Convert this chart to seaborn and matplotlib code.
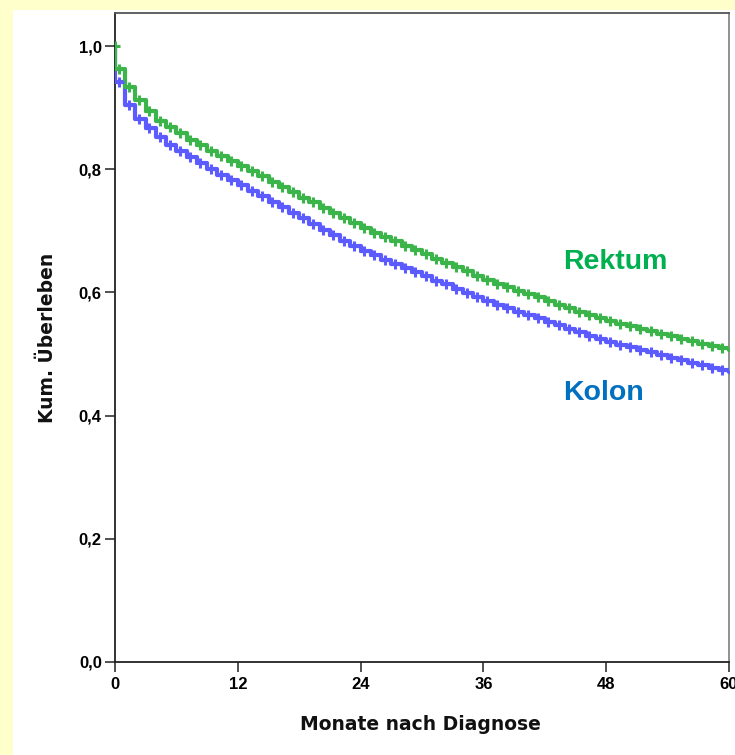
import matplotlib
matplotlib.use("Agg")
import matplotlib.pyplot as plt
import seaborn as sns
import pandas as pd
from matplotlib.patches import Rectangle

# ---- data ----
months = list(range(0, 61))
rektum = [0.963, 0.933, 0.912, 0.895, 0.879, 0.868, 0.858, 0.848, 0.839, 0.830,
          0.822, 0.814, 0.806, 0.797, 0.789, 0.780, 0.771, 0.763, 0.754, 0.746,
          0.737, 0.729, 0.721, 0.712, 0.704, 0.697, 0.690, 0.683, 0.676, 0.669,
          0.662, 0.655, 0.648, 0.641, 0.634, 0.627, 0.620, 0.614, 0.608, 0.603,
          0.597, 0.592, 0.586, 0.580, 0.575, 0.569, 0.564, 0.558, 0.553, 0.549,
          0.545, 0.541, 0.537, 0.533, 0.529, 0.525, 0.521, 0.517, 0.513, 0.509,
          0.506]
kolon = [0.941, 0.904, 0.882, 0.867, 0.852, 0.840, 0.830, 0.820, 0.810, 0.800,
         0.791, 0.782, 0.774, 0.765, 0.756, 0.747, 0.738, 0.729, 0.720, 0.711,
         0.702, 0.693, 0.684, 0.676, 0.667, 0.660, 0.653, 0.646, 0.640, 0.633,
         0.626, 0.619, 0.613, 0.606, 0.599, 0.593, 0.586, 0.580, 0.575, 0.569,
         0.564, 0.558, 0.552, 0.547, 0.541, 0.536, 0.530, 0.525, 0.519, 0.515,
         0.511, 0.507, 0.503, 0.499, 0.494, 0.490, 0.486, 0.482, 0.478, 0.474,
         0.470]
x_ticks = [0, 12, 24, 36, 48, 60]
y_ticks = [0.0, 0.2, 0.4, 0.6, 0.8, 1.0]
y_ticklabels = ["0,0", "0,2", "0,4", "0,6", "0,8", "1,0"]
series_names = ["Kolon", "Rektum"]

line_colors = {"Kolon": "#5B5BFF", "Rektum": "#3BB44A"}
text_colors = {"Kolon": "#0070C0", "Rektum": "#00B050"}

sns.set_theme(style="white")
plt.rcParams["font.family"] = ["Liberation Sans", "DejaVu Sans"]

fig = plt.figure(figsize=(7.35, 7.55), dpi=100)
fig.patch.set_facecolor("white")
# yellow page border
fig.patches.append(Rectangle((0, 0), 13 / 735, 1, transform=fig.transFigure,
                             facecolor="#FFFFCC", edgecolor="none", zorder=0))
fig.patches.append(Rectangle((0, 1 - 10 / 755), 1, 10 / 755, transform=fig.transFigure,
                             facecolor="#FFFFCC", edgecolor="none", zorder=0))

ax = fig.add_axes([115 / 735, 1 - 662 / 755, 614 / 735, 649 / 755])
ax.set_facecolor("white")

for name, vals in [("Kolon", kolon), ("Rektum", rektum)]:
    df = pd.DataFrame({"t": [0] + months, "s": [1.0] + vals, "grp": name})
    sns.lineplot(data=df, x="t", y="s", estimator=None, sort=False,
                 drawstyle="steps-post", color=line_colors[name], linewidth=3.0,
                 ax=ax, legend=False, zorder=3)
    # censoring marks on each step
    cdf = pd.DataFrame({"t": [m + 0.35 for m in months], "s": vals})
    if name == "Rektum":
        cdf = pd.concat([pd.DataFrame({"t": [0.0], "s": [1.0]}), cdf])
    sns.scatterplot(data=cdf, x="t", y="s", marker="+", s=60, linewidth=2.2,
                    color=line_colors[name], ax=ax, legend=False, zorder=4)

ax.set_xlim(0, 60)
ax.set_ylim(0, 1.0536)
ax.set_xticks(x_ticks)
ax.set_xticklabels([str(v) for v in x_ticks])
ax.set_yticks(y_ticks)
ax.set_yticklabels(y_ticklabels)

ax.tick_params(axis="both", which="major", direction="out", length=7.5, width=1.2,
               color="#333333", labelsize=12, labelcolor="#000000",
               bottom=True, left=True, top=False, right=False)
ax.tick_params(axis="x", pad=3)
ax.tick_params(axis="y", pad=2)
for lab in ax.get_xticklabels() + ax.get_yticklabels():
    lab.set_fontweight("bold")

for side, col in [("left", "#222222"), ("bottom", "#222222"), ("top", "#555555"), ("right", "#888888")]:
    ax.spines[side].set_visible(True)
    ax.spines[side].set_color(col)
    ax.spines[side].set_linewidth(1.3)

ax.set_xlabel("Monate nach Diagnose", fontsize=13.5, fontweight="bold",
              family=["DejaVu Sans"], color="#111111", va="center")
ax.xaxis.set_label_coords(0.498, -0.0963)
ax.set_ylabel("Kum. Überleben", fontsize=13.5, fontweight="bold",
              family=["DejaVu Sans"], color="#111111", va="center")
ax.yaxis.set_label_coords(-0.1107, 0.499)

ax.text(43.8, 0.649, "Rektum", color=text_colors["Rektum"], fontsize=20.5,
        fontweight="bold", ha="left", va="center")
ax.text(43.8, 0.436, "Kolon", color=text_colors["Kolon"], fontsize=20.5,
        fontweight="bold", ha="left", va="center")

fig.savefig("out.png", dpi=100, facecolor=fig.get_facecolor())
